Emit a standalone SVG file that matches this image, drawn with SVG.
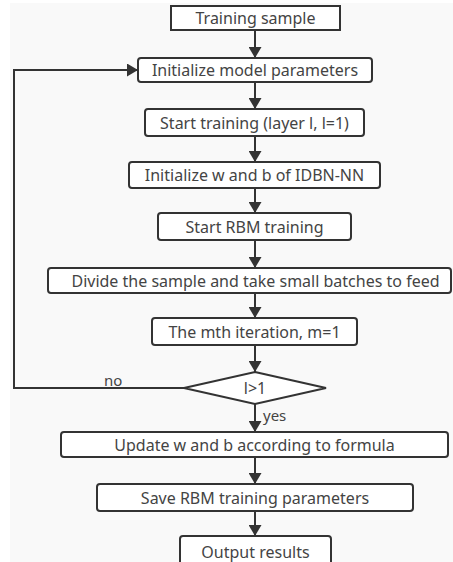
<svg xmlns="http://www.w3.org/2000/svg" width="453" height="562" viewBox="0 0 453 562">
<defs>
<marker id="ah" markerWidth="11" markerHeight="13" refX="11" refY="6.5" orient="auto" markerUnits="userSpaceOnUse">
<path d="M0,0 L11,6.5 L0,13 Z" fill="#333"/>
</marker>
<style>
.box{fill:#fff;stroke:#333;stroke-width:2}
.t{font-family:"Noto Sans","Open Sans",sans-serif;font-size:16px;fill:#444;text-anchor:middle;dominant-baseline:central}
.lbl{font-family:"Noto Sans","Open Sans",sans-serif;font-size:15px;fill:#444}
.c{fill:none;stroke:#333;stroke-width:2}
</style>
</defs>
<rect x="0" y="0" width="453" height="562" fill="#fff"/>
<rect x="10" y="3" width="443" height="559" fill="#f9f9f9"/>
<g id="connectors">
<line class="c" x1="255" y1="30" x2="255" y2="58" marker-end="url(#ah)"/>
<line class="c" x1="255" y1="82" x2="255" y2="109" marker-end="url(#ah)"/>
<line class="c" x1="255" y1="136" x2="255" y2="162" marker-end="url(#ah)"/>
<line class="c" x1="255" y1="188" x2="255" y2="213" marker-end="url(#ah)"/>
<line class="c" x1="255" y1="240" x2="255" y2="268" marker-end="url(#ah)"/>
<line class="c" x1="255" y1="293" x2="255" y2="318" marker-end="url(#ah)"/>
<line class="c" x1="255" y1="345" x2="255" y2="372" marker-end="url(#ah)"/>
<line class="c" x1="255" y1="404" x2="255" y2="432" marker-end="url(#ah)"/>
<line class="c" x1="255" y1="457" x2="255" y2="484" marker-end="url(#ah)"/>
<line class="c" x1="255" y1="511" x2="255" y2="536" marker-end="url(#ah)"/>
<polyline class="c" points="184,388 14,388 14,70 138,70" marker-end="url(#ah)"/>
<text class="lbl" x="104" y="386">no</text>
<text class="lbl" x="263" y="421">yes</text>
</g>
<g id="n1"><rect class="box" x="171" y="6" width="169" height="24"/><text class="t" x="255.5" y="18">Training sample</text></g>
<g id="n2"><rect class="box" x="138" y="58" width="234" height="24" rx="3"/><text class="t" x="255" y="70">Initialize model parameters</text></g>
<g id="n3"><rect class="box" x="145" y="109" width="219" height="27" rx="3"/><text class="t" x="254.5" y="122.5">Start training (layer l, l=1)</text></g>
<g id="n4"><rect class="box" x="129" y="162" width="251" height="26" rx="3"/><text class="t" x="254.5" y="175">Initialize w and b of IDBN-NN</text></g>
<g id="n5"><rect class="box" x="158" y="213" width="193" height="27" rx="3"/><text class="t" x="254.5" y="226.5">Start RBM training</text></g>
<g id="n6"><rect class="box" x="48" y="268" width="403" height="25" rx="3"/><text class="t" x="255.5" y="280.5">Divide the sample and take small batches to feed</text></g>
<g id="n7"><rect class="box" x="152" y="318" width="205" height="27" rx="3"/><text class="t" x="254.5" y="331.5">The mth iteration, m=1</text></g>
<g id="n8"><polygon class="box" points="255,372 326,388 255,404 184,388"/><text class="t" x="255" y="388">l&gt;1</text></g>
<g id="n9"><rect class="box" x="61" y="432" width="387" height="25" rx="3"/><text class="t" x="254.5" y="444.5">Update w and b according to formula</text></g>
<g id="n10"><rect class="box" x="97" y="484" width="316" height="27" rx="3"/><text class="t" x="255" y="497.5">Save RBM training parameters</text></g>
<g id="n11"><rect class="box" x="180" y="536" width="151" height="34" rx="3"/><text class="t" x="255.5" y="552">Output results</text></g>
</svg>
